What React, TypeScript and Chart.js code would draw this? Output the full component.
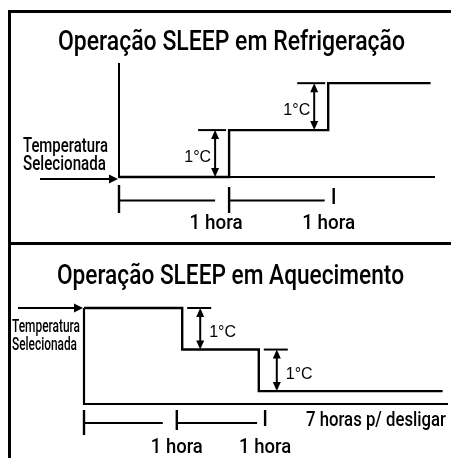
import React, { useEffect, useRef } from "react";
import { Chart, registerables } from "chart.js";

Chart.register(...registerables);

// ---------- DATA ----------
const setpointLabel = ["Temperatura", "Selecionada"];
const stepLabel = "1°C";

// Cooling (Refrigeração): time (h) at which each level starts, last entry = end of trace
const coolTitle = "Operação SLEEP em Refrigeração";
const coolStepHours = [0, 1, 1.9, 2.83];
const coolLevels = [0, 1, 2]; // °C relative to the selected temperature
const coolBracketTicks = [0, 1, 1.95];
const coolHourLabels = ["1 hora", "1 hora"];
const coolAxisTop = 2.43;
const coolAxisEnd = 2.87;

// Heating (Aquecimento)
const heatTitle = "Operação SLEEP em Aquecimento";
const heatStepHours = [0, 1.09, 1.94, 3.98];
const heatLevels = [0, -1, -2];
const heatBracketTicks = [0, 1.03, 2.01];
const heatHourLabels = ["1 hora", "1 hora"];
const heatAxisBottom = -2.31;
const heatAxisEnd = 4.04;
const offLabel = "7 horas p/ desligar";

// ---------- helpers ----------
const FONT = "Roboto, 'DejaVu Sans', sans-serif";

function condText(
  ctx: CanvasRenderingContext2D,
  text: string,
  x: number,
  y: number,
  size: number,
  width: number,
  align: "left" | "center" | "right"
) {
  ctx.save();
  ctx.font = `500 ${size}px ${FONT}`;
  const w = ctx.measureText(text).width;
  const s = width / w;
  const left = align === "left" ? x : align === "center" ? x - width / 2 : x - width;
  ctx.translate(left, y);
  ctx.scale(s, 1);
  ctx.textAlign = "left";
  ctx.textBaseline = "alphabetic";
  ctx.fillStyle = "#000";
  ctx.fillText(text, 0, 0);
  ctx.restore();
}

function plainText(ctx: CanvasRenderingContext2D, text: string, x: number, y: number, align: CanvasTextAlign) {
  ctx.save();
  ctx.font = "16px 'Liberation Sans', Arial, sans-serif";
  ctx.textAlign = align;
  ctx.textBaseline = "alphabetic";
  ctx.fillStyle = "#000";
  ctx.fillText(text, x, y);
  ctx.restore();
}

function line(ctx: CanvasRenderingContext2D, x1: number, y1: number, x2: number, y2: number, w = 2) {
  ctx.save();
  ctx.strokeStyle = "#000";
  ctx.lineWidth = w;
  ctx.beginPath();
  ctx.moveTo(x1, y1);
  ctx.lineTo(x2, y2);
  ctx.stroke();
  ctx.restore();
}

function tri(ctx: CanvasRenderingContext2D, pts: number[][]) {
  ctx.save();
  ctx.fillStyle = "#000";
  ctx.beginPath();
  ctx.moveTo(pts[0][0], pts[0][1]);
  ctx.lineTo(pts[1][0], pts[1][1]);
  ctx.lineTo(pts[2][0], pts[2][1]);
  ctx.closePath();
  ctx.fill();
  ctx.restore();
}

function arrowRight(ctx: CanvasRenderingContext2D, xa: number, xb: number, yy: number) {
  line(ctx, xa, yy, xb - 6, yy, 2);
  tri(ctx, [[xb, yy], [xb - 9, yy - 4.5], [xb - 9, yy + 4.5]]);
}

function dblArrow(ctx: CanvasRenderingContext2D, xx: number, yTop: number, yBot: number) {
  const h = 9, w = 4;
  line(ctx, xx, yTop + h - 1, xx, yBot - h + 1, 2);
  tri(ctx, [[xx, yTop], [xx - w, yTop + h], [xx + w, yTop + h]]);
  tri(ctx, [[xx, yBot], [xx - w, yBot - h], [xx + w, yBot - h]]);
}

function stepData(hours: number[], levels: number[]) {
  const pts = levels.map((l, i) => ({ x: hours[i], y: l }));
  pts.push({ x: hours[hours.length - 1], y: levels[levels.length - 1] });
  return pts;
}

// ---------- plugins ----------
const coolDecor = {
  id: "coolDecor",
  afterDatasetsDraw(chart: any) {
    const ctx: CanvasRenderingContext2D = chart.ctx;
    const xs = chart.scales.x, ys = chart.scales.y;
    const x0 = xs.getPixelForValue(0), y0 = ys.getPixelForValue(0);
    condText(ctx, coolTitle, 231.5, 49.5, 28, 347, "center");
    condText(ctx, setpointLabel[0], x0 - 96, y0 - 25.5, 20, 85, "left");
    condText(ctx, setpointLabel[1], x0 - 96, y0 - 7, 20, 83, "left");
    arrowRight(ctx, x0 - 79, x0 - 1, y0 + 2);
    for (let i = 1; i < coolLevels.length; i++) {
      const sx = xs.getPixelForValue(coolStepHours[i]);
      const yU = ys.getPixelForValue(coolLevels[i]);
      const yL = ys.getPixelForValue(coolLevels[i - 1]);
      line(ctx, sx - 31, yU, sx - 3, yU, 2);
      dblArrow(ctx, sx - 14, yU, yL);
      plainText(ctx, stepLabel, sx - 18, (yU + yL) / 2 + 8.5, "right");
    }
    const t = coolBracketTicks.map((h) => xs.getPixelForValue(h));
    const tickSpans = [[8, 36], [10, 36], [11, 27]];
    t.forEach((tx, i) => line(ctx, tx, y0 + tickSpans[i][0], tx, y0 + tickSpans[i][1], 2.4));
    const gaps = [14, 9];
    for (let i = 0; i < t.length - 1; i++) {
      line(ctx, t[i], y0 + 23.5, t[i + 1] - gaps[i], y0 + 23.5, 2);
    }
    const offs = [-13, -5];
    coolHourLabels.forEach((lab, i) => condText(ctx, lab, t[i + 1] + offs[i], y0 + 51.5, 21, 53, "center"));
  },
};

const heatDecor = {
  id: "heatDecor",
  afterDatasetsDraw(chart: any) {
    const ctx: CanvasRenderingContext2D = chart.ctx;
    const xs = chart.scales.x, ys = chart.scales.y;
    const x0 = xs.getPixelForValue(0), y0 = ys.getPixelForValue(0);
    const yB = ys.getPixelForValue(heatAxisBottom);
    condText(ctx, heatTitle, 230.5, 41, 28, 347, "center");
    condText(ctx, setpointLabel[0], x0 - 72, y0 + 24, 18, 68, "left");
    condText(ctx, setpointLabel[1], x0 - 72, y0 + 42, 18, 65, "left");
    arrowRight(ctx, x0 - 66, x0 - 1, y0);
    for (let i = 1; i < heatLevels.length; i++) {
      const sx = xs.getPixelForValue(heatStepHours[i]);
      const yU = ys.getPixelForValue(heatLevels[i - 1]);
      const yL = ys.getPixelForValue(heatLevels[i]);
      line(ctx, sx + 5, yU, sx + 29, yU, 2);
      dblArrow(ctx, sx + 18, yU, yL);
      plainText(ctx, stepLabel, sx + 27, (yU + yL) / 2 + 8.5, "left");
    }
    const t = heatBracketTicks.map((h) => xs.getPixelForValue(h));
    const tickSpans = [[6, 31], [6, 26], [6, 22]];
    t.forEach((tx, i) => line(ctx, tx, yB + tickSpans[i][0], tx, yB + tickSpans[i][1], 2.4));
    const gaps = [14, 8];
    for (let i = 0; i < t.length - 1; i++) {
      line(ctx, t[i], yB + 19, t[i + 1] - gaps[i], yB + 19, 2);
    }
    heatHourLabels.forEach((lab, i) => condText(ctx, lab, t[i + 1], yB + 49, 20, 52, "center"));
    condText(ctx, offLabel, 306, yB + 22, 19.5, 140, "left");
  },
};

// ---------- component ----------
function Panel(props: { config: any; top: number; height: number }) {
  const ref = useRef<HTMLCanvasElement | null>(null);
  useEffect(() => {
    if (!ref.current) return;
    const chart = new Chart(ref.current, props.config);
    return () => chart.destroy();
  }, []);
  return (
    <canvas
      ref={ref}
      width={451}
      height={props.height}
      style={{ position: "absolute", left: 0, top: props.top, width: 451, height: props.height, display: "block" }}
    />
  );
}

function baseOptions(padding: any, xMin: number, xMax: number, yMin: number, yMax: number) {
  return {
    responsive: false,
    maintainAspectRatio: false,
    animation: false,
    devicePixelRatio: 1,
    layout: { padding },
    plugins: { legend: { display: false }, tooltip: { enabled: false }, title: { display: false } },
    elements: { point: { radius: 0 }, line: { tension: 0 } },
    scales: {
      x: { type: "linear", display: false, min: xMin, max: xMax },
      y: { type: "linear", display: false, min: yMin, max: yMax },
    },
  };
}

const coolConfig = {
  type: "line",
  data: {
    datasets: [
      {
        label: "eixo",
        data: [
          { x: 0, y: coolAxisTop },
          { x: 0, y: 0 },
          { x: coolAxisEnd, y: 0 },
        ],
        borderColor: "#000",
        borderWidth: 2,
        clip: false,
      },
      {
        label: "Refrigeração",
        data: stepData(coolStepHours, coolLevels),
        stepped: "before",
        borderColor: "#000",
        borderWidth: 2.4,
        clip: false,
      },
    ],
  },
  options: baseOptions({ left: 119, right: 16, top: 63, bottom: 66 }, 0, coolAxisEnd, 0, coolAxisTop),
  plugins: [coolDecor],
};

const heatConfig = {
  type: "line",
  data: {
    datasets: [
      {
        label: "eixo",
        data: [
          { x: 0, y: 0 },
          { x: 0, y: heatAxisBottom },
          { x: heatAxisEnd, y: heatAxisBottom },
        ],
        borderColor: "#000",
        borderWidth: 2.2,
        clip: false,
      },
      {
        label: "Aquecimento",
        data: stepData(heatStepHours, heatLevels),
        stepped: "before",
        borderColor: "#000",
        borderWidth: 2.4,
        clip: false,
      },
    ],
  },
  options: baseOptions({ left: 84, right: 3, top: 65, bottom: 54 }, 0, heatAxisEnd, heatAxisBottom, 0),
  plugins: [heatDecor],
};

export default function App() {
  return (
    <div style={{ position: "fixed", left: 0, top: 0, width: 451, height: 458, overflow: "hidden", background: "#fff" }}>
      <div style={{ position: "absolute", left: 8, top: 10, width: 3, height: 460, background: "#000" }} />
      <div style={{ position: "absolute", left: 8, top: 10, width: 450, height: 3, background: "#000" }} />
      <div style={{ position: "absolute", left: 8, top: 242, width: 450, height: 3, background: "#000" }} />
      <Panel config={coolConfig} top={0} height={243} />
      <Panel config={heatConfig} top={243} height={215} />
    </div>
  );
}
